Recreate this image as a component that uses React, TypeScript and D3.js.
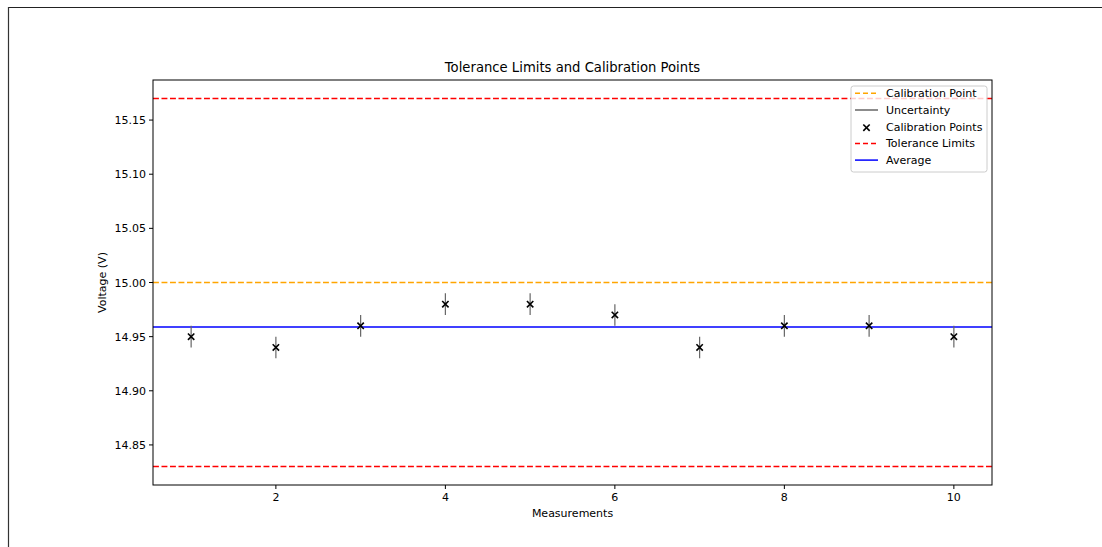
import React from "react";
import * as d3 from "d3";

const measurements = [1, 2, 3, 4, 5, 6, 7, 8, 9, 10];
const voltages = [14.95, 14.94, 14.96, 14.98, 14.98, 14.97, 14.94, 14.96, 14.96, 14.95];
const uncertainty = [0.01, 0.01, 0.01, 0.01, 0.01, 0.01, 0.01, 0.01, 0.01, 0.01];
const calibrationPoint = 15.0;
const toleranceLimits = [14.83, 15.17];
const xTicks = [2, 4, 6, 8, 10];
const yTicks = [14.85, 14.9, 14.95, 15.0, 15.05, 15.1, 15.15];

const legendItems = [
  { label: "Calibration Point", kind: "dash", color: "#FFA500" },
  { label: "Uncertainty", kind: "line", color: "#666666" },
  { label: "Calibration Points", kind: "x", color: "#000000" },
  { label: "Tolerance Limits", kind: "dash", color: "#FF0000" },
  { label: "Average", kind: "line", color: "#0000FF" },
];

const W = 1102;
const H = 547;
const left = 153;
const right = 992;
const top = 80;
const bottom = 485;
const font = "DejaVu Sans, sans-serif";

export default function App() {
  const average = d3.mean(voltages) as number;
  const x = d3.scaleLinear().domain([0.55, 10.45]).range([left, right]);
  const yMin = 14.83 - 0.017;
  const yMax = 15.17 + 0.017;
  const y = d3.scaleLinear().domain([yMin, yMax]).range([bottom, top]);
  const dash = "5.9,2.6";
  const ms = 3.2;
  const fs = 11;

  return (
    <svg
      width={W}
      height={H}
      style={{ position: "absolute", left: 0, top: 0, background: "#fff" }}
      fontFamily={font}
    >
      <line x1={8} x2={W} y1={7.5} y2={7.5} stroke="#222" strokeWidth={1.2} />
      <line x1={8.5} x2={8.5} y1={7} y2={H} stroke="#333" strokeWidth={1.2} />

      <defs>
        <clipPath id="plotclip">
          <rect x={left} y={top} width={right - left} height={bottom - top} />
        </clipPath>
      </defs>

      <g clipPath="url(#plotclip)">
        {toleranceLimits.map((t, i) => (
          <line key={i} x1={left} x2={right} y1={y(t)} y2={y(t)} stroke="#FF0000" strokeWidth={1.5} strokeDasharray={dash} />
        ))}
        <line x1={left} x2={right} y1={y(calibrationPoint)} y2={y(calibrationPoint)} stroke="#FFA500" strokeWidth={1.5} strokeDasharray={dash} />
        <line x1={left} x2={right} y1={y(average)} y2={y(average)} stroke="#0000FF" strokeWidth={1.5} />
        {measurements.map((m, i) => (
          <line key={"e" + i} x1={x(m)} x2={x(m)} y1={y(voltages[i] - uncertainty[i])} y2={y(voltages[i] + uncertainty[i])} stroke="#666666" strokeWidth={1.2} />
        ))}
        {measurements.map((m, i) => (
          <g key={"m" + i} stroke="#000" strokeWidth={1.6}>
            <line x1={x(m) - ms} x2={x(m) + ms} y1={y(voltages[i]) - ms} y2={y(voltages[i]) + ms} />
            <line x1={x(m) - ms} x2={x(m) + ms} y1={y(voltages[i]) + ms} y2={y(voltages[i]) - ms} />
          </g>
        ))}
      </g>

      <rect x={left} y={top} width={right - left} height={bottom - top} fill="none" stroke="#000" strokeWidth={1} />

      {xTicks.map((t) => (
        <g key={"xt" + t}>
          <line x1={x(t)} x2={x(t)} y1={bottom} y2={bottom + 4} stroke="#000" strokeWidth={1} />
          <text x={x(t)} y={bottom + 16} fontSize={fs} textAnchor="middle" fill="#000">{t}</text>
        </g>
      ))}
      {yTicks.map((t) => (
        <g key={"yt" + t}>
          <line x1={left - 4} x2={left} y1={y(t)} y2={y(t)} stroke="#000" strokeWidth={1} />
          <text x={left - 7} y={y(t) + 4} fontSize={fs} textAnchor="end" fill="#000">{t.toFixed(2)}</text>
        </g>
      ))}

      <text x={(left + right) / 2} y={top - 8} fontSize={13.2} textAnchor="middle" fill="#000">
        Tolerance Limits and Calibration Points
      </text>
      <text x={(left + right) / 2} y={517} fontSize={fs} textAnchor="middle" fill="#000">Measurements</text>
      <text transform={`translate(106,${(top + bottom) / 2}) rotate(-90)`} fontSize={fs} textAnchor="middle" fill="#000">
        Voltage (V)
      </text>

      <g>
        <rect x={851} y={86} width={136} height={86} rx={2.5} fill="#fff" fillOpacity={0.8} stroke="#cccccc" strokeWidth={1} />
        {legendItems.map((it, i) => {
          const cy = 93.3 + i * 16.7;
          return (
            <g key={it.label}>
              {it.kind === "dash" && (
                <line x1={855} x2={878} y1={cy} y2={cy} stroke={it.color} strokeWidth={1.5} strokeDasharray="5,3" />
              )}
              {it.kind === "line" && (
                <line x1={855} x2={878} y1={cy} y2={cy} stroke={it.color} strokeWidth={1.5} />
              )}
              {it.kind === "x" && (
                <g stroke="#000" strokeWidth={1.6}>
                  <line x1={866.5 - ms} x2={866.5 + ms} y1={cy - ms + 1} y2={cy + ms + 1} />
                  <line x1={866.5 - ms} x2={866.5 + ms} y1={cy + ms + 1} y2={cy - ms + 1} />
                </g>
              )}
              <text x={886} y={cy + 4} fontSize={fs} fill="#000">{it.label}</text>
            </g>
          );
        })}
      </g>
    </svg>
  );
}
